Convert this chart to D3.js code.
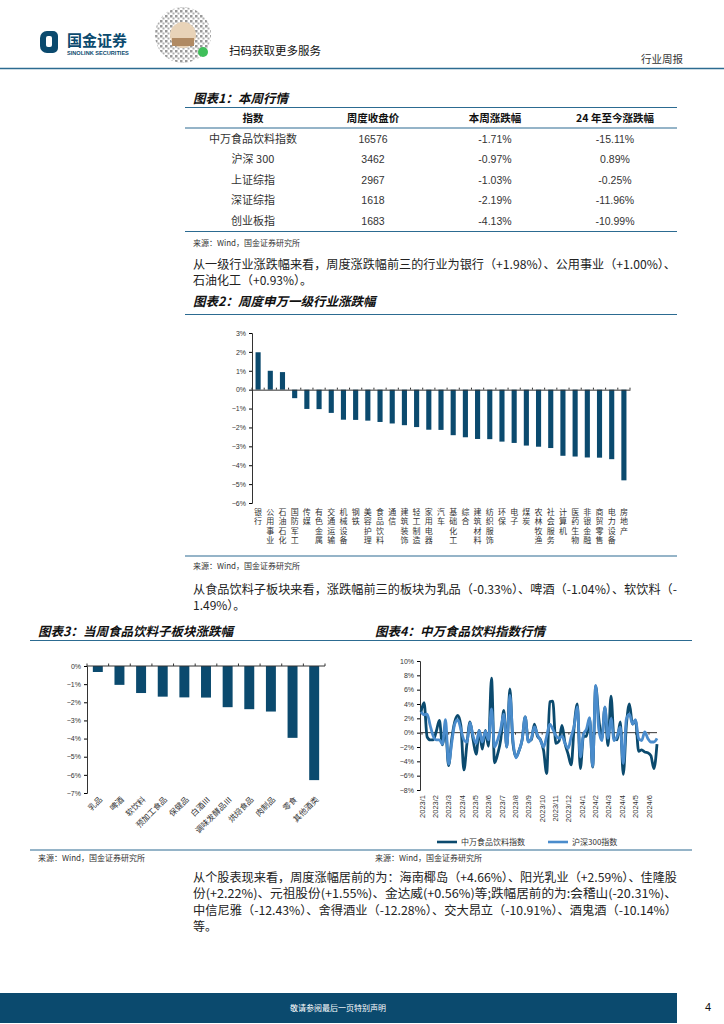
<!DOCTYPE html>
<html>
<head>
<meta charset="utf-8">
<script src="https://cdn.jsdelivr.net/npm/d3@7"></script>
<style>
    body { margin: 0; background: #fff; }
    svg { display: block; }
</style>
</head>
<body>
<div id="page"></div>
<script>
const width = 724;
const height = 1024;

// 表1 本周行情
const tableHead = ["指数", "周度收盘价", "本周涨跌幅", "24 年至今涨跌幅"];
const indexNames = ["中万食品饮料指数", "沪深 300", "上证综指", "深证综指", "创业板指"];
const closePrices = ["16576", "3462", "2967", "1618", "1683"];
const weekChg = ["-1.71%", "-0.97%", "-1.03%", "-2.19%", "-4.13%"];
const ytdChg = ["-15.11%", "0.89%", "-0.25%", "-11.96%", "-10.99%"];

// 表2 申万一级行业周涨跌幅(%)
const industries = ["银行", "公用事业", "石油石化", "国防军工", "传媒", "有色金属", "交通运输", "机械设备",
    "钢铁", "美容护理", "食品饮料", "通信", "建筑装饰", "轻工制造", "家用电器", "汽车", "基础化工", "综合",
    "建筑材料", "纺织服饰", "环保", "电子", "煤炭", "农林牧渔", "社会服务", "计算机", "医药生物", "非银金融",
    "商贸零售", "电力设备", "房地产"];
const industryChg = [1.98, 1.00, 0.93, -0.45, -1.02, -1.03, -1.23, -1.59, -1.60, -1.64, -1.71, -1.79, -1.88,
    -1.98, -2.12, -2.13, -2.41, -2.52, -2.61, -2.62, -2.75, -2.82, -2.96, -3.02, -3.09, -3.50, -3.54, -3.59,
    -3.60, -3.68, -4.80];
const industryTicks = [3, 2, 1, 0, -1, -2, -3, -4, -5, -6];

// 表3 食品饮料子板块(%)
const subSectors = ["乳品", "啤酒", "软饮料", "预加工食品", "保健品", "白酒Ⅲ", "调味发酵品Ⅲ", "烘焙食品", "肉制品", "零食", "其他酒类"];
const subSectorChg = [-0.33, -1.04, -1.49, -1.69, -1.73, -1.74, -2.27, -2.38, -2.51, -3.96, -6.29];
const subSectorTicks = [0, -1, -2, -3, -4, -5, -6, -7];

// 表4 周涨跌幅(%)
const monthTicks = ["2023/1", "2023/2", "2023/3", "2023/4", "2023/5", "2023/6", "2023/7", "2023/8", "2023/9",
    "2023/10", "2023/11", "2023/12", "2024/1", "2024/2", "2024/3", "2024/4", "2024/5", "2024/6"];
const foodIndex = [2.9, 4.2, -0.6, -1.0, -1.0, 0.2, 1.7, -1.7, 0.5, -4.6, -1.0, 1.5, 2.4, 1.0, -5.2, -1.5,
    1.5, -1.0, -3.0, 0.3, -2.3, 0.3, -1.9, 7.6, -4.2, -3.0, -1.0, 3.1, -2.0, 6.1, -1.5, -3.4, -2.5, -1.0, 2.2,
    -1.2, -1.0, 1.2, -0.5, -1.0, -2.5, -5.7, 4.3, 4.4, -1.5, -1.2, 1.0, -1.5, -3.0, -4.5, 1.0, 4.0, -5.0,
    -0.5, -0.5, 2.0, -4.8, 6.5, 2.0, -0.8, 3.5, -1.8, 5.1, -0.8, -1.0, 1.5, -5.8, 1.0, 4.0, 1.2, 1.7, -2.6,
    -2.4, -2.7, -2.8, -3.2, -5.0, -1.6];
const hs300 = [2.9, 2.5, 2.6, 1.0, -0.5, -1.0, -1.0, -1.6, 1.8, -4.4, -1.5, 1.2, 1.8, 0.5, -1.0, -1.3, 1.4,
    -0.5, -1.5, 0.3, -1.3, 0.2, -1.0, 3.3, -2.0, -1.0, 0.5, 2.6, -2.0, 5.2, -1.0, -3.5, -2.5, -1.0, 2.2, -1.3,
    -0.8, 0.8, -0.3, -1.1, -2.0, -0.5, 1.2, 0.5, -0.4, -0.8, -0.5, -1.5, -2.2, -0.6, 1.0, 3.6, -3.4, -0.2, 0.5,
    2.1, -4.7, 6.6, 0.5, -1.1, 3.6, -0.8, 2.0, -1.1, -0.5, 0.8, -4.3, 1.9, 2.6, 1.2, 1.8, -0.8, -1.1, 0.1, -0.8,
    -1.3, -1.3, -0.8];
const yTicks4 = [10, 8, 6, 4, 2, 0, -2, -4, -6, -8];

const DARK = "#0b4a6e";
const LIGHT = "#4a8ccc";
const RULE = "#2c6b91";
const CN = "'Noto Sans CJK SC', sans-serif";
const NUM = "'Liberation Sans', 'Noto Sans CJK SC', sans-serif";
const pct = d => (d < 0 ? "\u2212" + Math.abs(d) : d) + "%";

const svg = d3.select("#page").append("svg")
    .attr("width", width)
    .attr("height", height)
    .attr("viewBox", `0 0 ${width} ${height}`);

function txt(x, y, s, size, opt) {
    opt = opt || {};
    const t = svg.append("text")
        .attr("x", x).attr("y", y)
        .attr("font-family", opt.font || CN)
        .attr("font-size", size)
        .attr("fill", opt.fill || "#222")
        .attr("text-anchor", opt.anchor || "start")
        .text(s);
    if (opt.bold) t.attr("font-weight", "bold");
    if (opt.italic) t.attr("font-style", "italic");
    if (opt.len) t.attr("textLength", opt.len).attr("lengthAdjust", "spacingAndGlyphs");
    return t;
}

function rule(x1, x2, y, w) {
    svg.append("line")
        .attr("x1", x1).attr("x2", x2).attr("y1", y).attr("y2", y)
        .attr("stroke", RULE).attr("stroke-width", w || 1.2);
}

// ---- ページヘッダー
svg.append("path")
    .attr("d", "M47,31 h6 a5,5 0 0 1 5,5 v12 a5,5 0 0 1 -5,5 h-6 a7,7 0 0 1 -7,-7 v-8 a7,7 0 0 1 7,-7 z")
    .attr("fill", DARK);
svg.append("rect").attr("x", 46).attr("y", 36).attr("width", 6).attr("height", 11).attr("rx", 2).attr("fill", "#fff");
txt(67, 46, "国金证券", 15, { bold: true, fill: DARK });
txt(67, 55, "SINOLINK SECURITIES", 5.6, { bold: true, fill: DARK, font: NUM });

// QRコード(装飾)
const qr = svg.append("g");
const defs = svg.append("defs");
const pat = defs.append("pattern").attr("id", "qrp").attr("width", 5).attr("height", 5)
    .attr("patternUnits", "userSpaceOnUse");
pat.append("rect").attr("width", 2.5).attr("height", 2.5).attr("fill", "#555");
pat.append("rect").attr("x", 2.5).attr("y", 2.5).attr("width", 2).attr("height", 2).attr("fill", "#777");
qr.append("circle").attr("cx", 183).attr("cy", 35).attr("r", 28).attr("fill", "url(#qrp)").attr("opacity", 0.6);
qr.append("circle").attr("cx", 183).attr("cy", 35).attr("r", 13).attr("fill", "#e8d3b8");
qr.append("rect").attr("x", 172).attr("y", 38).attr("width", 22).attr("height", 8).attr("fill", "#b08a63");
qr.append("circle").attr("cx", 203).attr("cy", 52).attr("r", 5).attr("fill", "#3fbf5a");
txt(229, 55, "扫码获取更多服务", 11.5, { fill: "#111" });
txt(641, 63, "行业周报", 10.5, { fill: "#333" });
rule(0, 724, 68.5, 1.6);

// ---- 表1
txt(193, 103, "图表1：本周行情", 12.5, { bold: true, italic: true, fill: "#111" });
rule(185, 677, 107.5);
const colX = [253, 373, 495, 615];
tableHead.forEach((h, i) => txt(colX[i], 122, h, 10.5, { bold: true, anchor: "middle", fill: "#111" }));
rule(185, 677, 128);
const rowY = d3.range(indexNames.length).map(i => 143 + i * 20.4);
indexNames.forEach((name, i) => {
    txt(colX[0], rowY[i], name, 11, { anchor: "middle", fill: "#333" });
    txt(colX[1], rowY[i], closePrices[i], 10.5, { anchor: "middle", fill: "#333", font: NUM });
    txt(colX[2], rowY[i], weekChg[i], 10.5, { anchor: "middle", fill: "#333", font: NUM });
    txt(colX[3], rowY[i], ytdChg[i], 10.5, { anchor: "middle", fill: "#333", font: NUM });
});
rule(185, 677, 231.5);
txt(193, 246, "来源：Wind，国金证券研究所", 8, { fill: "#333" });

// ---- 段落1
txt(193, 269, "从一级行业涨跌幅来看，周度涨跌幅前三的行业为银行（+1.98%）、公用事业（+1.00%）、", 12, { len: 483, fill: "#222" });
txt(193, 285, "石油化工（+0.93%）。", 12, { fill: "#222" });

// ---- 表2
txt(193, 306, "图表2：周度申万一级行业涨跌幅", 12.5, { bold: true, italic: true, fill: "#111" });
rule(185, 677, 314.5);

const x2 = d3.scaleBand().domain(industries).range([252, 630]);
const y2 = d3.scaleLinear().domain([-6, 3]).range([503, 333]);

svg.append("g")
    .attr("transform", "translate(252,0)")
    .call(d3.axisLeft(y2).tickValues(industryTicks).tickSize(3).tickFormat(pct))
    .call(g => g.select(".domain").attr("stroke", "#333"))
    .call(g => g.selectAll("text").attr("font-family", NUM).attr("font-size", 7).attr("fill", "#333"));

svg.append("g").selectAll("rect")
    .data(industries)
    .join("rect")
    .attr("x", d => x2(d) + x2.bandwidth() * 0.29)
    .attr("width", x2.bandwidth() * 0.42)
    .attr("y", (d, i) => y2(Math.max(0, industryChg[i])))
    .attr("height", (d, i) => Math.abs(y2(industryChg[i]) - y2(0)))
    .attr("fill", DARK);

svg.append("g")
    .attr("transform", `translate(0,${y2(0)})`)
    .call(d3.axisTop(x2).tickSize(0).tickFormat(""))
    .call(g => g.select(".domain").attr("stroke", "#333"));
svg.append("g").selectAll("line")
    .data(d3.range(industries.length + 1))
    .join("line")
    .attr("x1", i => 252 + i * x2.step()).attr("x2", i => 252 + i * x2.step())
    .attr("y1", y2(0)).attr("y2", y2(0) - 2)
    .attr("stroke", "#333");

// 縦書きラベル
svg.append("g").selectAll("text")
    .data(industries)
    .join("text")
    .attr("font-family", CN)
    .attr("font-size", 8)
    .attr("fill", "#333")
    .attr("text-anchor", "middle")
    .each(function (d) {
        const cx = x2(d) + x2.bandwidth() / 2;
        d3.select(this).selectAll("tspan")
            .data(d.split(""))
            .join("tspan")
            .attr("x", cx)
            .attr("y", (c, k) => 515 + k * 9.4)
            .text(c => c);
    });

rule(185, 677, 556);
txt(193, 569, "来源：Wind，国金证券研究所", 8, { fill: "#333" });

// ---- 段落2
txt(193, 594, "从食品饮料子板块来看，涨跌幅前三的板块为乳品（-0.33%）、啤酒（-1.04%）、软饮料（-", 12, { len: 484, fill: "#222" });
txt(193, 610, "1.49%）。", 12, { fill: "#222" });

// ---- 表3 / 表4 タイトル
txt(38, 636, "图表3：当周食品饮料子板块涨跌幅", 12.5, { bold: true, italic: true, fill: "#111" });
txt(375, 636, "图表4：中万食品饮料指数行情", 12.5, { bold: true, italic: true, fill: "#111" });
rule(30, 692, 640.5);

// ---- 表3
const x3 = d3.scaleBand().domain(subSectors).range([87, 325]);
const y3 = d3.scaleLinear().domain([-7, 0]).range([793, 666]);

svg.append("g")
    .attr("transform", "translate(87,0)")
    .call(d3.axisLeft(y3).tickValues(subSectorTicks).tickSize(3).tickFormat(pct))
    .call(g => g.select(".domain").attr("stroke", "#333"))
    .call(g => g.selectAll("text").attr("font-family", NUM).attr("font-size", 7).attr("fill", "#333"));

svg.append("g").selectAll("rect")
    .data(subSectors)
    .join("rect")
    .attr("x", d => x3(d) + x3.bandwidth() * 0.27)
    .attr("width", x3.bandwidth() * 0.46)
    .attr("y", y3(0))
    .attr("height", (d, i) => y3(subSectorChg[i]) - y3(0))
    .attr("fill", DARK);

svg.append("line").attr("x1", 87).attr("x2", 325).attr("y1", y3(0)).attr("y2", y3(0)).attr("stroke", "#333");
svg.append("g").selectAll("line")
    .data(d3.range(subSectors.length + 1))
    .join("line")
    .attr("x1", i => 87 + i * x3.step()).attr("x2", i => 87 + i * x3.step())
    .attr("y1", y3(0)).attr("y2", y3(0) - 2.5)
    .attr("stroke", "#333");

svg.append("g").selectAll("text")
    .data(subSectors)
    .join("text")
    .attr("font-family", CN)
    .attr("font-size", 8)
    .attr("fill", "#333")
    .attr("text-anchor", "end")
    .attr("transform", d => `translate(${x3(d) + x3.bandwidth() / 2 + 5},${800}) rotate(-45)`)
    .text(d => d);

// ---- 表4
const x4 = d3.scaleLinear().domain([0, foodIndex.length - 1]).range([421, 657]);
const xm = d3.scalePoint().domain(monthTicks).range([422, 649]);
const y4 = d3.scaleLinear().domain([-8, 10]).range([790, 661]);

svg.append("g")
    .attr("transform", "translate(420,0)")
    .call(d3.axisLeft(y4).tickValues(yTicks4).tickSize(3).tickFormat(pct))
    .call(g => g.select(".domain").attr("stroke", "#333"))
    .call(g => g.selectAll("text").attr("font-family", NUM).attr("font-size", 7).attr("fill", "#333"));

svg.append("line").attr("x1", 420).attr("x2", 657).attr("y1", y4(0)).attr("y2", y4(0)).attr("stroke", "#333");
svg.append("g").selectAll("line")
    .data(monthTicks)
    .join("line")
    .attr("x1", d => xm(d)).attr("x2", d => xm(d))
    .attr("y1", y4(0)).attr("y2", y4(0) + 2)
    .attr("stroke", "#333");

svg.append("g").selectAll("text")
    .data(monthTicks)
    .join("text")
    .attr("font-family", NUM)
    .attr("font-size", 7.5)
    .attr("fill", "#333")
    .attr("text-anchor", "end")
    .attr("transform", d => `translate(${xm(d) + 2.5},795) rotate(-90)`)
    .text(d => d);

const line4 = d3.line().x((d, i) => x4(i)).y(d => y4(d)).curve(d3.curveMonotoneX);
svg.append("path").datum(foodIndex).attr("d", line4)
    .attr("fill", "none").attr("stroke", DARK).attr("stroke-width", 2.8).attr("stroke-linejoin", "round");
svg.append("path").datum(hs300).attr("d", line4)
    .attr("fill", "none").attr("stroke", LIGHT).attr("stroke-width", 2.8).attr("stroke-linejoin", "round");

// 凡例
const legend = [["中万食品饮料指数", DARK, 437], ["沪深300指数", LIGHT, 548]];
legend.forEach(([name, color, lx]) => {
    svg.append("line").attr("x1", lx).attr("x2", lx + 20).attr("y1", 842).attr("y2", 842)
        .attr("stroke", color).attr("stroke-width", 2.6);
    txt(lx + 24, 845, name, 8, { fill: "#333" });
});

rule(30, 692, 850);
txt(38, 861, "来源：Wind，国金证券研究所", 8, { fill: "#333" });
txt(375, 861, "来源：Wind，国金证券研究所", 8, { fill: "#333" });

// ---- 段落3
const para3 = [
    "从个股表现来看，周度涨幅居前的为：海南椰岛（+4.66%）、阳光乳业（+2.59%）、佳隆股",
    "份(+2.22%)、元祖股份(+1.55%)、金达威(+0.56%)等;跌幅居前的为:会稽山(-20.31%)、",
    "中信尼雅（-12.43%）、舍得酒业（-12.28%）、交大昂立（-10.91%）、酒鬼酒（-10.14%）",
    "等。"
];
para3.forEach((s, i) => {
    txt(193, 882 + i * 16.3, s, 12, { fill: "#222", len: i < 3 ? 484 : null });
});

// ---- フッター
svg.append("rect").attr("x", 0).attr("y", 993).attr("width", 677).attr("height", 30).attr("fill", DARK);
txt(338, 1011, "敬请参阅最后一页特别声明", 8, { fill: "#fff", anchor: "middle" });
txt(708, 1011, "4", 11, { fill: "#111", anchor: "middle", font: NUM });
</script>
</body>
</html>
